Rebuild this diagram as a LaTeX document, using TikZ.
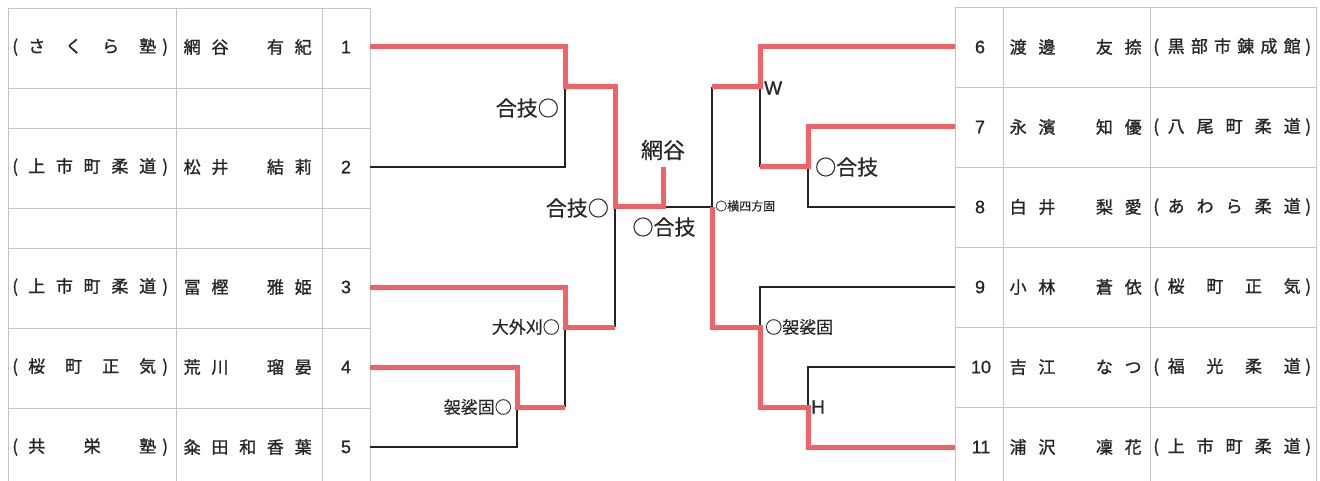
\documentclass[tikz,border=0pt]{standalone}
\usepackage{fontspec}
\setmainfont{Noto Sans CJK JP}
\newfontfamily\jpbold[FakeBold=1.2]{Noto Sans CJK JP}
\newfontfamily\jpmed[FakeBold=0.5]{Noto Sans CJK JP}
\newfontfamily\arialf{Liberation Sans}
\newfontfamily\arialb[FakeBold=1.0]{Liberation Sans}
\definecolor{winred}{RGB}{240,98,104}
\definecolor{gridgray}{RGB}{195,198,200}
\definecolor{loseblack}{RGB}{35,35,35}
\newcommand\clubL[1]{\makebox[12pt]{(}\hspace{7pt}\makebox[128pt][s]{#1}\hspace{3pt}\makebox[12pt]{)}}
\newcommand\clubR[1]{\makebox[12pt]{(}\hspace{5.5pt}\makebox[133pt][s]{#1}\hspace{1.5pt}\makebox[12pt]{)}}
\newcommand\nmL[1]{\makebox[128pt][s]{#1}}
\newcommand\nmR[1]{\makebox[132pt][s]{#1}}
\begin{document}
\begin{tikzpicture}[x=1pt,y=-1pt,
  gridline/.style={draw=gridgray,line width=0.7pt},
  winline/.style={draw=winred,line width=5pt,line join=miter},
  loseline/.style={draw=loseblack,line width=1.3pt},
  cell/.style={inner sep=0pt,font=\jpbold\fontsize{17}{20}\selectfont,text=black!85},
  numcell/.style={inner sep=0pt,font=\arialb\fontsize{18}{20}\selectfont,text=black!85},
  lbl/.style={inner sep=0pt,text=black!85}]
\useasboundingbox[fill=white] (0,0) rectangle (1320,481);
% ---------- left table ----------
\foreach \yy in {8,88,128,208,248,328,408} \draw[gridline] (8,\yy) -- (370,\yy);
\foreach \xx in {8,176,322,370} \draw[gridline] (\xx,8) -- (\xx,481);
% ---------- right table ----------
\foreach \yy in {7,87,167,247,327,407} \draw[gridline] (955,\yy) -- (1316,\yy);
\foreach \xx in {955,1003,1150,1316} \draw[gridline] (\xx,7) -- (\xx,481);
% ---------- left entries ----------
\node[cell,anchor=west] (c1) at (9,47) {\clubL{さ\hfill く\hfill ら\hfill 塾}};
\node[cell,anchor=west] (n1) at (183.5,47) {\nmL{網\hfill 谷\hfill 　\hfill 有\hfill 紀}};
\node[numcell] (s1) at (346,47) {1};
\node[cell,anchor=west] (c2) at (9,167) {\clubL{上\hfill 市\hfill 町\hfill 柔\hfill 道}};
\node[cell,anchor=west] (n2) at (183.5,167) {\nmL{松\hfill 井\hfill 　\hfill 結\hfill 莉}};
\node[numcell] (s2) at (346,167) {2};
\node[cell,anchor=west] (c3) at (9,287) {\clubL{上\hfill 市\hfill 町\hfill 柔\hfill 道}};
\node[cell,anchor=west] (n3) at (183.5,287) {\nmL{冨\hfill 樫\hfill 　\hfill 雅\hfill 姫}};
\node[numcell] (s3) at (346,287) {3};
\node[cell,anchor=west] (c4) at (9,367) {\clubL{桜\hfill 町\hfill 正\hfill 気}};
\node[cell,anchor=west] (n4) at (183.5,367) {\nmL{荒\hfill 川\hfill 　\hfill 瑠\hfill 晏}};
\node[numcell] (s4) at (346,367) {4};
\node[cell,anchor=west] (c5) at (9,447) {\clubL{共\hfill 栄\hfill 塾}};
\node[cell,anchor=west] (n5) at (183.5,447) {\nmL{粂\hfill 田\hfill 和\hfill 香\hfill 葉}};
\node[numcell] (s5) at (346,447) {5};
% ---------- right entries ----------
\node[numcell] (s6) at (980,47) {6};
\node[cell,anchor=west] (n6) at (1009.5,47) {\nmR{渡\hfill 邊\hfill 　\hfill 友\hfill 捺}};
\node[cell,anchor=west] (c6) at (1150,47) {\clubR{黒\hfill 部\hfill 市\hfill 錬\hfill 成\hfill 館}};
\node[numcell] (s7) at (980,127) {7};
\node[cell,anchor=west] (n7) at (1009.5,127) {\nmR{永\hfill 濱\hfill 　\hfill 知\hfill 優}};
\node[cell,anchor=west] (c7) at (1150,127) {\clubR{八\hfill 尾\hfill 町\hfill 柔\hfill 道}};
\node[numcell] (s8) at (980,207) {8};
\node[cell,anchor=west] (n8) at (1009.5,207) {\nmR{白\hfill 井\hfill 　\hfill 梨\hfill 愛}};
\node[cell,anchor=west] (c8) at (1150,207) {\clubR{あ\hfill わ\hfill ら\hfill 柔\hfill 道}};
\node[numcell] (s9) at (980,287) {9};
\node[cell,anchor=west] (n9) at (1009.5,287) {\nmR{小\hfill 林\hfill 　\hfill 蒼\hfill 依}};
\node[cell,anchor=west] (c9) at (1150,287) {\clubR{桜\hfill 町\hfill 正\hfill 気}};
\node[numcell] (s10) at (981,367) {10};
\node[cell,anchor=west] (n10) at (1009.5,367) {\nmR{吉\hfill 江\hfill 　\hfill な\hfill つ}};
\node[cell,anchor=west] (c10) at (1150,367) {\clubR{福\hfill 光\hfill 柔\hfill 道}};
\node[numcell] (s11) at (981,447) {11};
\node[cell,anchor=west] (n11) at (1009.5,447) {\nmR{浦\hfill 沢\hfill 　\hfill 凜\hfill 花}};
\node[cell,anchor=west] (c11) at (1150,447) {\clubR{上\hfill 市\hfill 町\hfill 柔\hfill 道}};
% ---------- bracket coordinates ----------
\coordinate (L1) at (370,47);  \coordinate (L2) at (370,167);
\coordinate (L3) at (370,287); \coordinate (L4) at (370,367);
\coordinate (L5) at (370,447);
\coordinate (R6) at (955,47);  \coordinate (R7) at (955,127);
\coordinate (R8) at (955,207); \coordinate (R9) at (955,287);
\coordinate (R10) at (955,367); \coordinate (R11) at (955,447);
\coordinate (A) at (565,87);   \coordinate (S1) at (615,207);
\coordinate (C) at (565,327);  \coordinate (C2) at (615,327);
\coordinate (D) at (517,407);  \coordinate (D2) at (565,407);
\coordinate (F) at (663,207);  \coordinate (Ftop) at (663,167);
\coordinate (S2) at (712,207); \coordinate (S2t) at (712,87);
\coordinate (E) at (760,87);   \coordinate (G) at (808,167);
\coordinate (G2) at (760,167);
\coordinate (K) at (760,327);  \coordinate (M) at (808,407);
\coordinate (M2) at (760,407);
% ---------- losing lines ----------
\draw[loseline] (L2) -| (A);
\draw[loseline] (C2) -- (S1);
\draw[loseline] (D2) -- (C);
\draw[loseline] (L5) -| (D);
\draw[loseline] (F) -- (S2);
\draw[loseline] (S2t) -- (S2);
\draw[loseline] (G2) -- (E);
\draw[loseline] (R8) -| (G);
\draw[loseline] (R9) -| (K);
\draw[loseline] (R10) -| (M);
% ---------- winning lines ----------
\draw[winline] (L1) -| (A) -| (S1) -- (F) -- (Ftop);
\draw[winline] (L3) -| (C) -- (C2);
\draw[winline] (L4) -| (D) -- (D2);
\draw[winline] (R6) -| (E) -- (S2t);
\draw[winline] (R7) -| (G) -- (G2);
\draw[winline] (S2) |- (K) -- (M2) -- (M) |- (R11);
% ---------- labels ----------
\node[lbl,font=\jpmed\fontsize{21}{24}\selectfont,anchor=east] (k12) at (559,108) {合技○};
\node[lbl,font=\jpmed\fontsize{21}{24}\selectfont,anchor=east] (ksf1) at (609,208) {合技○};
\node[lbl,font=\jpmed\fontsize{17}{20}\selectfont,anchor=east] (k345) at (560,327) {大外刈○};
\node[lbl,font=\jpmed\fontsize{17}{20}\selectfont,anchor=east] (k45) at (512,407) {袈裟固○};
\node[lbl,font=\jpmed\fontsize{22}{26}\selectfont] (champ) at (663,150) {網谷};
\node[lbl,font=\jpmed\fontsize{21}{24}\selectfont] (kf) at (664,227) {○合技};
\node[lbl,font=\arialb\fontsize{19}{22}\selectfont,anchor=west] (k678) at (764,88) {W};
\node[lbl,font=\jpmed\fontsize{21}{24}\selectfont,anchor=west] (k78) at (815,167) {○合技};
\node[lbl,font=\jpmed\fontsize{12}{14}\selectfont,anchor=west] (ksf2) at (715,206) {○横四方固};
\node[lbl,font=\jpmed\fontsize{17}{20}\selectfont,anchor=west] (k911) at (765,327) {○袈裟固};
\node[lbl,font=\arialb\fontsize{19}{22}\selectfont,anchor=west] (k1011) at (811,407) {H};
\end{tikzpicture}
\end{document}
